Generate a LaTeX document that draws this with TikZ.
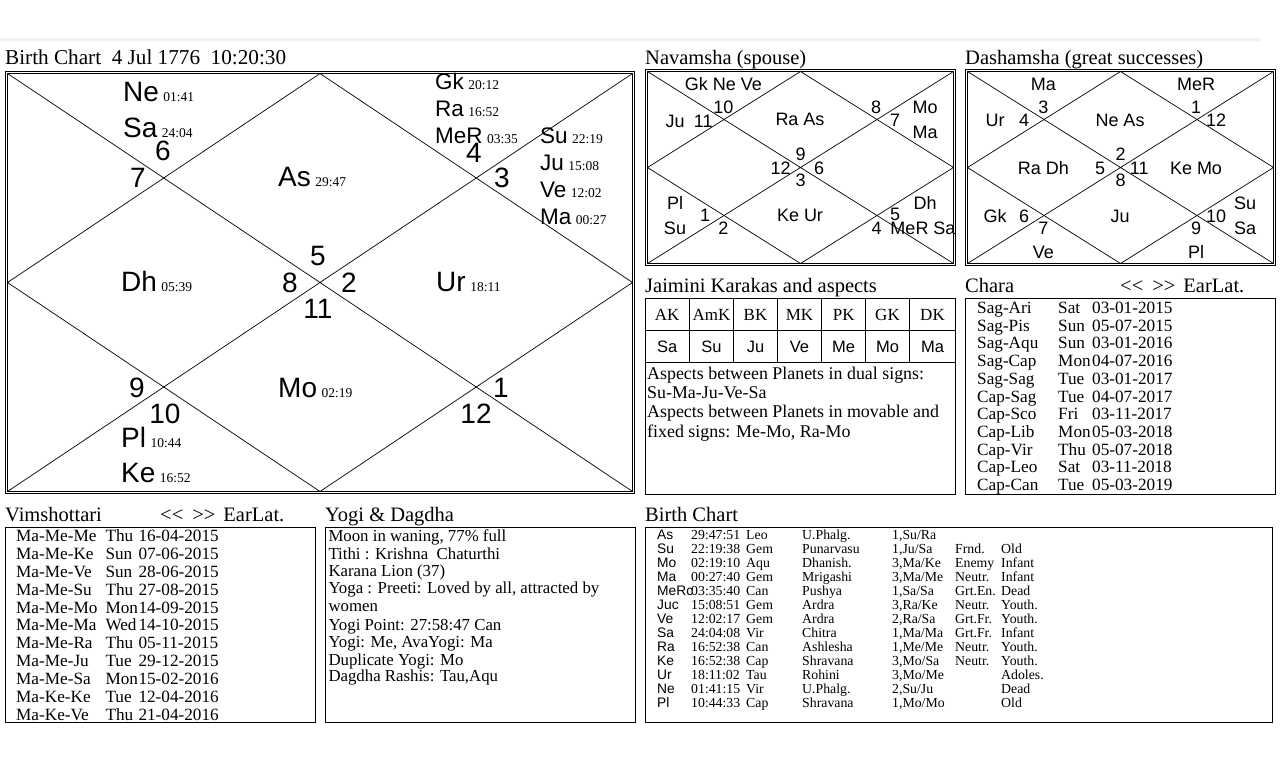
\documentclass[tikz,border=0pt]{standalone}
\usepackage{fontspec}
\setmainfont{Liberation Serif}
\newfontfamily\arial{Liberation Sans}
\newcommand\fsz[1]{\fontsize{#1}{#1}\selectfont}
\newcommand\degx[1]{\hspace{4.5pt}{\rmfamily\fsz{13.5}#1}}
\newcommand\kchart[4]{%
  \draw[box] (#1-2,#2-2) rectangle (#3+2,#4+2);
  \draw[box] (#1,#2) rectangle (#3,#4);
  \draw[ln] (#1,#2) -- (#3,#4) (#1,#4) -- (#3,#2);
  \draw[ln] ({(#1+#3)/2},#2) -- (#3,{(#2+#4)/2}) -- ({(#1+#3)/2},#4) -- (#1,{(#2+#4)/2}) -- cycle;}
\newcommand\trow[8]{%
  \node[tbs] (b#1n) at (657,{539.3+#1*14.03}) {#2};
  \node[tb] (b#1d) at (691,{539.3+#1*14.03}) {#3};
  \node[tb] (b#1s) at (746,{539.3+#1*14.03}) {#4};
  \node[tb] (b#1k) at (802,{539.3+#1*14.03}) {#5};
  \node[tb] (b#1p) at (892,{539.3+#1*14.03}) {#6};
  \node[tb] (b#1r) at (955,{539.3+#1*14.03}) {#7};
  \node[tb] (b#1a) at (1001,{539.3+#1*14.03}) {#8};}
\newcommand\earlat{<\kern0pt<\hspace{9pt}>\kern0pt>\hspace{8pt}EarLat.}
\begin{document}
\begin{tikzpicture}[x=1pt,y=-1pt,
  box/.style={draw=black, line width=1pt},
  ln/.style={draw=black, line width=0.7pt},
  pl/.style={inner sep=0pt, anchor=base west, font=\arial\fsz{28}},
  ps/.style={inner sep=0pt, anchor=base west, font=\arial\fsz{22.5}},
  hn/.style={inner sep=0pt, anchor=base, font=\arial\fsz{28}},
  sm/.style={inner sep=0pt, anchor=base, font=\arial\fsz{18}},
  ttl/.style={inner sep=0pt, anchor=base west, font=\fsz{20.5}},
  txt/.style={inner sep=0pt, anchor=base west, font=\fsz{16.8}},
  lst/.style={inner sep=0pt, anchor=base west, font=\fsz{17.2}},
  jt/.style={inner sep=0pt, anchor=base west, font=\fsz{17.9}},
  hd/.style={inner sep=0pt, anchor=base, font=\fsz{17}},
  hv/.style={inner sep=0pt, anchor=base, font=\arial\fsz{16.5}},
  tb/.style={inner sep=0pt, anchor=base west, font=\fsz{13.8}},
  tbs/.style={inner sep=0pt, anchor=base west, font=\arial\fsz{13.8}},
]
\useasboundingbox[fill=white] (0,0) rectangle (1280,768);
\fill[black!6] (0,38.5) rectangle (1260,41);

% ---------- titles ----------
\node[ttl, font=\fsz{21.2}] (t1) at (5,65) {Birth Chart\ \ 4 Jul 1776\ \ 10:20:30};
\node[ttl] (t2) at (645,64.5) {Navamsha (spouse)};
\node[ttl] (t3) at (965,64.5) {Dashamsha (great successes)};
\node[ttl] (t4) at (645,292.5) {Jaimini Karakas and aspects};
\node[ttl] (t5) at (965,292.5) {Chara};
\node[ttl] (t5b) at (1120,292.5) {\earlat};
\node[ttl] (t6) at (5,521.7) {Vimshottari};
\node[ttl] (t6b) at (160,521.7) {\earlat};
\node[ttl] (t7) at (325,521.7) {Yogi \& Dagdha};
\node[ttl] (t8) at (645,521.7) {Birth Chart};

% ---------- main chart ----------
\kchart{7.5}{73.5}{632.5}{491.5}
\node[pl] (mne) at (123,102) {Ne\degx{01:41}};
\node[pl] (msa) at (123,137) {Sa\degx{24:04}};
\node[hn] (h6) at (163,160) {6};
\node[hn] (h7) at (138,187) {7};
\node[pl] (mas) at (278,186) {As\degx{29:47}};
\node[ps] (mgk) at (435,89) {Gk\degx{20:12}};
\node[ps] (mra) at (435,116) {Ra\degx{16:52}};
\node[ps] (mme) at (435,143.5) {MeR\degx{03:35}};
\node[hn] (h4) at (474,162) {4};
\node[hn] (h3) at (502,187) {3};
\node[ps] (msu) at (540,143) {Su\degx{22:19}};
\node[ps] (mju) at (540,170) {Ju\degx{15:08}};
\node[ps] (mve) at (540,197) {Ve\degx{12:02}};
\node[ps] (mma) at (540,224) {Ma\degx{00:27}};
\node[hn] (h5) at (318,265) {5};
\node[hn] (h8) at (290,292) {8};
\node[hn] (h2) at (349,292) {2};
\node[hn] (h11) at (318,318) {11};
\node[pl] (mdh) at (121,291) {Dh\degx{05:39}};
\node[pl] (mur) at (436,291) {Ur\degx{18:11}};
\node[hn] (h9) at (137,397) {9};
\node[hn] (h10) at (165,423) {10};
\node[pl] (mpl) at (121,447) {Pl\degx{10:44}};
\node[pl] (mke) at (121,482) {Ke\degx{16:52}};
\node[pl] (mmo) at (278,397) {Mo\degx{02:19}};
\node[hn] (h1) at (501,397) {1};
\node[hn] (h12) at (476,423) {12};

% ---------- navamsha ----------
\kchart{647.5}{71.5}{953.5}{263.5}
\node[sm] (n1) at (723.3,90.8) {Gk Ne Ve};
\node[sm] (n2) at (723.3,113.2) {10};
\node[sm] (n3) at (675,127.5) {Ju};
\node[sm] (n4) at (703.3,127.5) {11};
\node[sm] (n5) at (800,125.5) {Ra As};
\node[sm] (n6) at (876,113.2) {8};
\node[sm] (n7) at (895,126.5) {7};
\node[sm] (n8) at (925,113.8) {Mo};
\node[sm] (n9) at (925,138.8) {Ma};
\node[sm] (n10) at (800.7,160.8) {9};
\node[sm] (n11) at (780.7,174.8) {12};
\node[sm] (n12) at (819,174.8) {6};
\node[sm] (n13) at (800.7,186.5) {3};
\node[sm] (n14) at (675,209.8) {Pl};
\node[sm] (n15) at (675,234.2) {Su};
\node[sm] (n16) at (705,221.5) {1};
\node[sm] (n17) at (723.3,234.2) {2};
\node[sm] (n18) at (800,221.5) {Ke Ur};
\node[sm] (n19) at (925,209.8) {Dh};
\node[sm] (n20) at (895,220.5) {5};
\node[sm] (n21) at (876.7,234.2) {4};
\node[sm] (n22) at (923,234.6) {MeR Sa};

% ---------- dashamsha ----------
\kchart{967.5}{71.5}{1273.5}{263.5}
\node[sm] (d1) at (1043.3,90.8) {Ma};
\node[sm] (d2) at (1196,90.8) {MeR};
\node[sm] (d3) at (995,126.5) {Ur};
\node[sm] (d4) at (1024,126.5) {4};
\node[sm] (d5) at (1043.3,113.2) {3};
\node[sm] (d6) at (1120,126.5) {Ne As};
\node[sm] (d7) at (1196,113.2) {1};
\node[sm] (d8) at (1216,126.5) {12};
\node[sm] (d9) at (1043.3,174.2) {Ra Dh};
\node[sm] (d10) at (1100,174.2) {5};
\node[sm] (d11) at (1120.7,160.8) {2};
\node[sm] (d12) at (1120.7,186.5) {8};
\node[sm] (d13) at (1139.3,174.2) {11};
\node[sm] (d14) at (1196,174.2) {Ke Mo};
\node[sm] (d15) at (995,222.2) {Gk};
\node[sm] (d16) at (1024,222.2) {6};
\node[sm] (d17) at (1043.3,234.2) {7};
\node[sm] (d18) at (1120,222.2) {Ju};
\node[sm] (d19) at (1196,234.2) {9};
\node[sm] (d20) at (1216,222.2) {10};
\node[sm] (d21) at (1245,209.8) {Su};
\node[sm] (d22) at (1245,234.2) {Sa};
\node[sm] (d23) at (1043.3,258.2) {Ve};
\node[sm] (d24) at (1196,258.2) {Pl};

% ---------- jaimini ----------
\draw[box] (645,298.3) rectangle (955.7,494.3);
\draw[box] (645,330) -- (955.7,330) (645,362.3) -- (955.7,362.3);
\foreach \x in {689.3,733.7,777.3,821.7,865.7,909.3}
  \draw[box] (\x,298.3) -- (\x,362.3);
\foreach \h/\v/\cx [count=\i] in {AK/Sa/667.2,AmK/Su/711.5,BK/Ju/755.5,MK/Ve/799.5,PK/Me/843.7,GK/Mo/887.5,DK/Ma/932.5}{
  \node[hd] (jh\i) at (\cx,320) {\h};
  \node[hv] (jv\i) at (\cx,352) {\v};}
\node[jt] (j1) at (647,379) {Aspects between Planets in dual signs:};
\node[jt] (j2) at (647,398.3) {Su-Ma-Ju-Ve-Sa};
\node[jt] (j3) at (647,417.7) {Aspects between Planets in movable and};
\node[jt] (j4) at (647,437) {fixed signs: Me-Mo, Ra-Mo};

% ---------- chara ----------
\draw[box] (965,298.3) rectangle (1275.7,494.3);
\foreach \a/\b/\c [count=\i from 0] in {Sag-Ari/Sat/03-01-2015,Sag-Pis/Sun/05-07-2015,Sag-Aqu/Sun/03-01-2016,Sag-Cap/Mon/04-07-2016,Sag-Sag/Tue/03-01-2017,Cap-Sag/Tue/04-07-2017,Cap-Sco/Fri/03-11-2017,Cap-Lib/Mon/05-03-2018,Cap-Vir/Thu/05-07-2018,Cap-Leo/Sat/03-11-2018,Cap-Can/Tue/05-03-2019}{
  \node[lst] (c\i a) at (977,{313.3+\i*17.74}) {\a};
  \node[lst] (c\i b) at (1058,{313.3+\i*17.74}) {\b};
  \node[lst] (c\i c) at (1092,{313.3+\i*17.74}) {\c};}

% ---------- vimshottari ----------
\draw[box] (5,527.3) rectangle (315.7,722.7);
\foreach \a/\b/\c [count=\i from 0] in {Ma-Me-Me/Thu/16-04-2015,Ma-Me-Ke/Sun/07-06-2015,Ma-Me-Ve/Sun/28-06-2015,Ma-Me-Su/Thu/27-08-2015,Ma-Me-Mo/Mon/14-09-2015,Ma-Me-Ma/Wed/14-10-2015,Ma-Me-Ra/Thu/05-11-2015,Ma-Me-Ju/Tue/29-12-2015,Ma-Me-Sa/Mon/15-02-2016,Ma-Ke-Ke/Tue/12-04-2016,Ma-Ke-Ve/Thu/21-04-2016}{
  \node[lst] (v\i a) at (16,{541.7+\i*17.83}) {\a};
  \node[lst] (v\i b) at (105.3,{541.7+\i*17.83}) {\b};
  \node[lst] (v\i c) at (138.3,{541.7+\i*17.83}) {\c};}

% ---------- yogi ----------
\draw[box] (325,527.3) rectangle (635.7,722.7);
\node[txt] (y1) at (328.3,541.7) {Moon in waning, 77\% full};
\node[txt] (y2) at (328.3,559) {Tithi : Krishna\ \ Chaturthi};
\node[txt] (y3) at (328.3,576.3) {Karana Lion (37)};
\node[txt] (y4) at (328.3,593.3) {Yoga : Preeti: Loved by all, attracted by};
\node[txt] (y5) at (328.3,611.7) {women};
\node[txt] (y6) at (328.3,630.7) {Yogi Point: 27:58:47 Can};
\node[txt] (y7) at (328.3,647.7) {Yogi: Me, AvaYogi: Ma};
\node[txt] (y8) at (328.3,665) {Duplicate Yogi: Mo};
\node[txt] (y9) at (328.3,681.7) {Dagdha Rashis: Tau,Aqu};

% ---------- birth chart table ----------
\draw[box] (645,527.3) rectangle (1272.3,722.7);
\trow{0}{As}{29:47:51}{Leo}{U.Phalg.}{1,Su/Ra}{}{}
\trow{1}{Su}{22:19:38}{Gem}{Punarvasu}{1,Ju/Sa}{Frnd.}{Old}
\trow{2}{Mo}{02:19:10}{Aqu}{Dhanish.}{3,Ma/Ke}{Enemy}{Infant}
\trow{3}{Ma}{00:27:40}{Gem}{Mrigashi}{3,Ma/Me}{Neutr.}{Infant}
\trow{4}{MeRc}{03:35:40}{Can}{Pushya}{1,Sa/Sa}{Grt.En.}{Dead}
\trow{5}{Juc}{15:08:51}{Gem}{Ardra}{3,Ra/Ke}{Neutr.}{Youth.}
\trow{6}{Ve}{12:02:17}{Gem}{Ardra}{2,Ra/Sa}{Grt.Fr.}{Youth.}
\trow{7}{Sa}{24:04:08}{Vir}{Chitra}{1,Ma/Ma}{Grt.Fr.}{Infant}
\trow{8}{Ra}{16:52:38}{Can}{Ashlesha}{1,Me/Me}{Neutr.}{Youth.}
\trow{9}{Ke}{16:52:38}{Cap}{Shravana}{3,Mo/Sa}{Neutr.}{Youth.}
\trow{10}{Ur}{18:11:02}{Tau}{Rohini}{3,Mo/Me}{}{Adoles.}
\trow{11}{Ne}{01:41:15}{Vir}{U.Phalg.}{2,Su/Ju}{}{Dead}
\trow{12}{Pl}{10:44:33}{Cap}{Shravana}{1,Mo/Mo}{}{Old}
\end{tikzpicture}
\end{document}
